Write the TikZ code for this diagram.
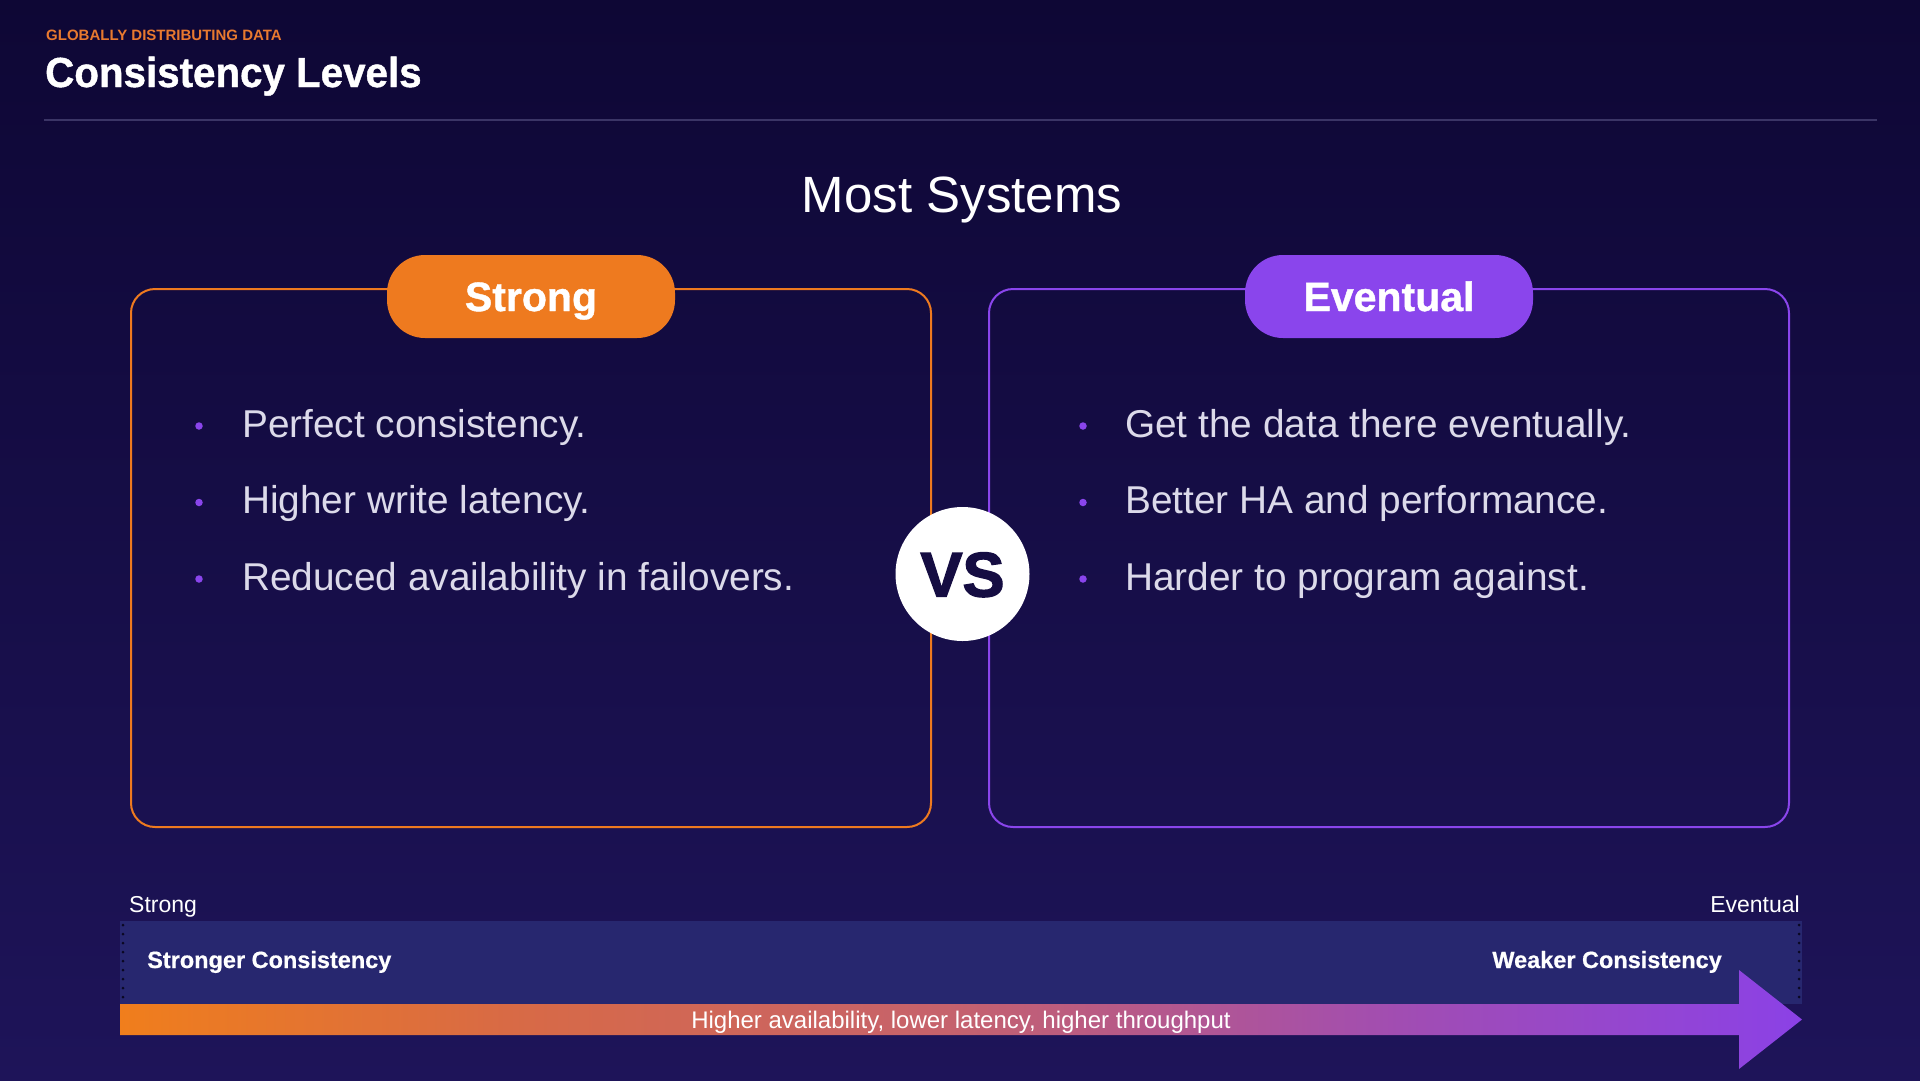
\documentclass[tikz,border=0pt]{standalone}
\usepackage{fontspec}
\usepackage{graphicx}
\setmainfont{Liberation Sans}
\usetikzlibrary{shapes.misc}

% palette
\definecolor{bgtop}{HTML}{0E0735}
\definecolor{bgmid}{HTML}{160E46}
\definecolor{bgbot}{HTML}{1E1459}
\definecolor{accOrange}{HTML}{EE7A1F}
\definecolor{accPurple}{HTML}{8A45EC}
\definecolor{kickerOrange}{HTML}{E8792F}
\definecolor{ruleGrey}{HTML}{3B3566}
\definecolor{bodyText}{HTML}{DCDAEA}
\definecolor{bandBlue}{HTML}{27276F}
\definecolor{vsInk}{HTML}{150D42}
\definecolor{dotInk}{HTML}{0A0822}
\definecolor{barA}{HTML}{F07E1C}
\definecolor{barB}{HTML}{D86A45}
\definecolor{barC}{HTML}{C6626C}
\definecolor{barD}{HTML}{A14DB2}
\definecolor{barE}{HTML}{8B41E6}

% orange-to-purple ribbon along the scale (path spans 25bp..75bp)
\pgfdeclarehorizontalshading{ribbon}{100bp}{color(0bp)=(barA); color(25bp)=(barA);
  color(36.5bp)=(barB); color(49.5bp)=(barC); color(63bp)=(barD);
  color(75bp)=(barE); color(100bp)=(barE)}

\newcommand\squeezed[2]{\scalebox{#1}[1]{#2}}

\tikzset{
  panel/.style={draw, line width=2pt, rounded corners=24pt,
    minimum width=800pt, minimum height=538pt, inner sep=0},
  pill/.style={rounded corners=38pt, minimum width=288pt, minimum height=83pt,
    text=white, inner sep=0, text height=29pt, text depth=0pt,
    font=\bfseries\fontsize{41}{41}\selectfont\addfontfeature{FakeBold=1}},
  bulletdot/.style={circle, fill=accPurple, minimum size=7.5pt, inner sep=0},
  item/.style={anchor=base west, text=bodyText, inner sep=0,
    font=\fontsize{38.8}{40}\selectfont},
  scalelabel/.style={text=white, inner sep=0, font=\fontsize{23}{23}\selectfont},
  endlabel/.style={text=white, inner sep=0,
    font=\bfseries\fontsize{23.5}{24}\selectfont\addfontfeature{FakeBold=0.6}},
  dotrule/.style={draw=dotInk, line width=3pt, line cap=round,
    dash pattern=on 0pt off 9pt},
}

\begin{document}
\begin{tikzpicture}[x=1pt,y=-1pt]
\useasboundingbox (0,0) rectangle (1920,1080);
\shade[top color=bgtop, middle color=bgmid, bottom color=bgbot] (0,0) rectangle (1920,1080);

% heading
\node[anchor=base west, inner sep=0, text=kickerOrange,
  font=\bfseries\fontsize{15}{15}\selectfont] (kicker) at (46,40)
  {GLOBALLY DISTRIBUTING DATA};
\node[anchor=base west, inner sep=0, text=white,
  font=\bfseries\fontsize{42}{42}\selectfont\addfontfeature{FakeBold=1}] (title) at (45,87)
  {\squeezed{0.96}{Consistency Levels}};
\draw[ruleGrey, line width=2.5pt] (44,120) -- (1877,120);

\node[anchor=base, inner sep=0, text=white, font=\fontsize{51}{51}\selectfont]
  (subtitle) at (962,212) {Most Systems};

% the two panels
\node[panel, draw=accOrange] (leftbox)  at (531,558) {};
\node[panel, draw=accPurple] (rightbox) at (1389,558) {};

\node[pill, fill=accOrange] (strongpill)   at (531,296.5)  {Strong};
\node[pill, fill=accPurple] (eventualpill) at (1389,296.5) {Eventual};

% left panel bullets
\node[bulletdot] (ldot1) at (199,426) {};
\node[bulletdot] (ldot2) at (199,502.5) {};
\node[bulletdot] (ldot3) at (199,579) {};
\node[item] (litem1) at (242,437)   {Perfect consistency.};
\node[item] (litem2) at (242,513.5) {Higher write latency.};
\node[item] (litem3) at (242,590)   {Reduced availability in failovers.};

% right panel bullets
\node[bulletdot] (rdot1) at (1083,426) {};
\node[bulletdot] (rdot2) at (1083,502.5) {};
\node[bulletdot] (rdot3) at (1083,579) {};
\node[item] (ritem1) at (1125,437)   {Get the data there eventually.};
\node[item] (ritem2) at (1125,513.5) {Better HA and performance.};
\node[item] (ritem3) at (1125,590)   {Harder to program against.};

% versus badge
\node[circle, fill=white, minimum size=134pt, inner sep=0, text=vsInk,
  text height=45pt, text depth=0pt,
  font=\bfseries\fontsize{63}{63}\selectfont\addfontfeature{FakeBold=2.2}]
  (vs) at (962.5,574) {VS};

% consistency scale
\node[scalelabel, anchor=base west] (scalestrong)   at (129,912)  {Strong};
\node[scalelabel, anchor=base east] (scaleeventual) at (1800,912) {Eventual};

\node[fill=bandBlue, anchor=north west, minimum width=1682pt, minimum height=83pt,
  inner sep=0] (band) at (120,921) {};
\draw[dotrule] (123,925) -- (123,998);
\draw[dotrule] (1799,925) -- (1799,998);

\node[endlabel, anchor=base west] (stronger) at (147,968)  {Stronger Consistency};
\node[endlabel, anchor=base east] (weaker)   at (1722,968) {Weaker Consistency};

\shade[shading=ribbon] (120,1004) -- (1739,1004) -- (1739,970) -- (1802,1019.5)
  -- (1739,1069) -- (1739,1035) -- (120,1035) -- cycle;
\node[anchor=base, inner sep=0, text=white, font=\fontsize{24}{24}\selectfont]
  (tradeoff) at (961,1028) {Higher availability, lower latency, higher throughput};
\end{tikzpicture}
\end{document}
